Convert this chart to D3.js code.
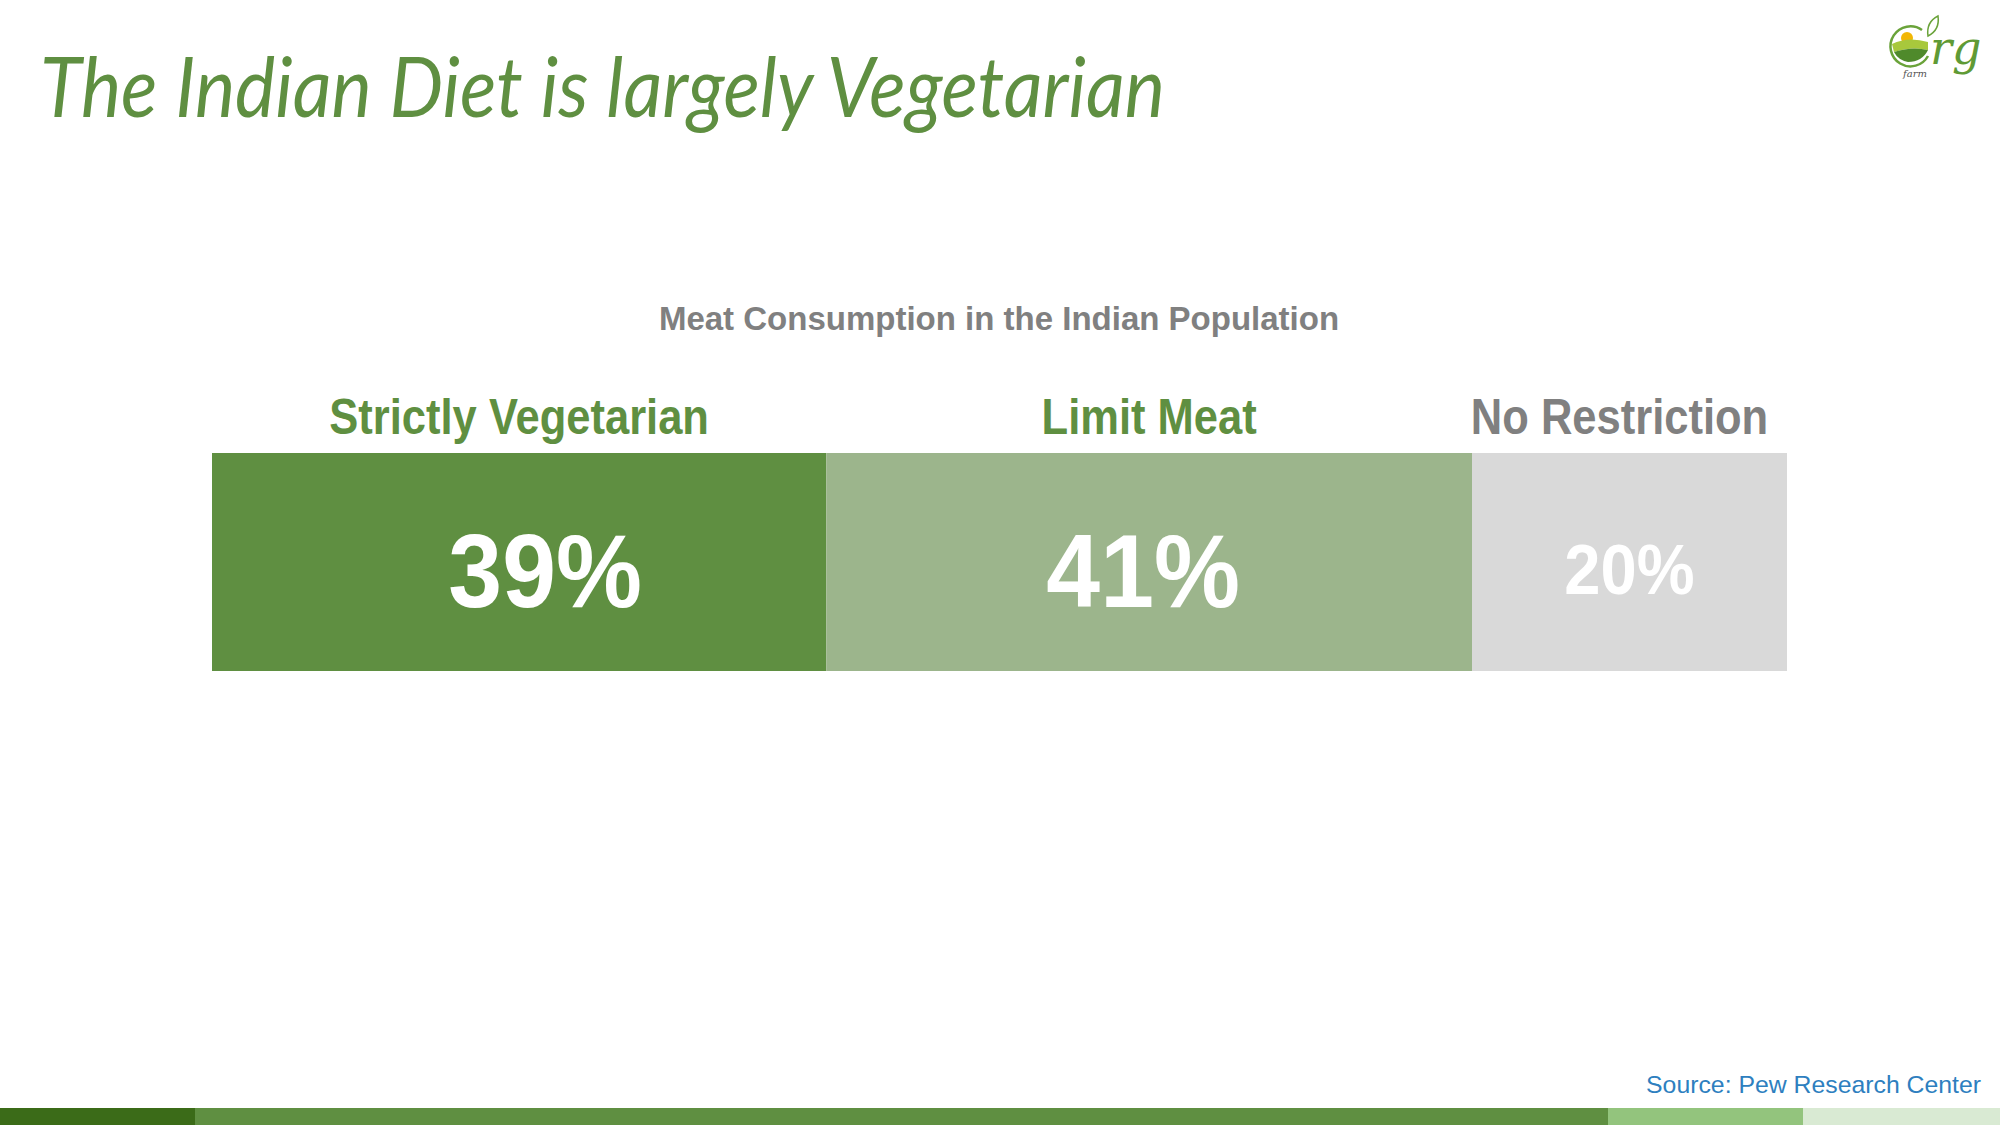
<!DOCTYPE html>
<html>
<head>
<meta charset="utf-8">
<script src="https://cdn.jsdelivr.net/npm/d3@7"></script>
<style>
  html, body { margin: 0; padding: 0; background: #fff; }
  svg { display: block; }
</style>
</head>
<body>
<svg id="chart"></svg>
<script>
// chart data
var categories = ["Strictly Vegetarian", "Limit Meat", "No Restriction"];
var shares = [39, 41, 20];
var segColors = ["#5f8f41", "#9cb58c", "#d9d9d9"];
var labelColors = ["#5f8f41", "#5f8f41", "#808080"];

// footer stripe, in percent of the page width
var stripeStops = [0, 9.75, 80.4, 90.15, 100];
var stripeColors = ["#3b6b18", "#5f8f41", "#93c47d", "#d9ead3"];

var W = 2000, H = 1125;

var svg = d3.select("#chart")
  .attr("width", W)
  .attr("height", H);

svg.append("rect").attr("width", W).attr("height", H).attr("fill", "#fff");

// title
svg.append("text")
  .attr("x", 40)
  .attr("y", 117)
  .attr("textLength", 1125)
  .attr("lengthAdjust", "spacingAndGlyphs")
  .style("font-family", "Lato, 'Noto Sans', sans-serif")
  .style("font-style", "italic")
  .style("font-size", "84px")
  .style("fill", "#5f8f41")
  .text("The Indian Diet is largely Vegetarian");

// subtitle
svg.append("text")
  .attr("x", 999)
  .attr("y", 330)
  .attr("text-anchor", "middle")
  .style("font-family", "'Liberation Sans', Arial, sans-serif")
  .style("font-weight", "bold")
  .style("font-size", "33px")
  .style("fill", "#808080")
  .text("Meat Consumption in the Indian Population");

// stacked bar
var margin = { left: 212, right: 213 };
var barTop = 453, barH = 218;

var x = d3.scaleLinear()
  .domain([0, d3.sum(shares)])
  .range([margin.left, W - margin.right]);

var segs = [];
var acc = 0;
shares.forEach(function(v, i) {
  segs.push({ name: categories[i], value: v, x0: acc, x1: acc + v, color: segColors[i], lc: labelColors[i] });
  acc += v;
});

var bar = svg.append("g");

bar.selectAll("rect")
  .data(segs)
  .enter().append("rect")
  .attr("x", d => x(d.x0))
  .attr("y", barTop)
  .attr("width", d => x(d.x1) - x(d.x0))
  .attr("height", barH)
  .attr("fill", d => d.color);

// category labels above the bar
var sx = 0.87, sxVal = 0.93;
bar.selectAll("text.cat")
  .data(segs)
  .enter().append("text")
  .attr("class", "cat")
  .attr("text-anchor", "middle")
  .attr("transform", function(d) {
    var cx = (x(d.x0) + x(d.x1)) / 2;
    if (d.x1 === d3.sum(shares)) cx -= 10;
    return "translate(" + cx + ",434) scale(" + sx + ",1)";
  })
  .style("font-family", "'Liberation Sans', Arial, sans-serif")
  .style("font-weight", "bold")
  .style("font-size", "50px")
  .style("fill", d => d.lc)
  .text(d => d.name);

// value labels inside the bar
bar.selectAll("text.val")
  .data(segs)
  .enter().append("text")
  .attr("class", "val")
  .attr("text-anchor", "middle")
  .attr("transform", function(d) {
    var w = x(d.x1) - x(d.x0);
    var cx = (x(d.x0) + x(d.x1)) / 2;
    if (d.x0 === 0) cx += 26;
    if (w > 500 && d.x0 > 0) cx -= 6;
    var y = w < 400 ? 594 : 607;
    return "translate(" + cx + "," + y + ") scale(" + sxVal + ",1)";
  })
  .style("font-family", "'Liberation Sans', Arial, sans-serif")
  .style("font-weight", "bold")
  .style("font-size", d => (x(d.x1) - x(d.x0)) < 400 ? "70px" : "104px")
  .style("fill", "#fff")
  .text(d => d.value + "%");

// source
svg.append("text")
  .attr("x", 1981)
  .attr("y", 1093)
  .attr("text-anchor", "end")
  .style("font-family", "'Liberation Sans', Arial, sans-serif")
  .style("font-size", "24.8px")
  .style("fill", "#2e7fbf")
  .text("Source: Pew Research Center");

// footer stripe
var sxStripe = d3.scaleLinear().domain([0, 100]).range([0, W]);
svg.append("g").selectAll("rect")
  .data(stripeColors)
  .enter().append("rect")
  .attr("x", (d, i) => sxStripe(stripeStops[i]))
  .attr("y", 1108)
  .attr("width", (d, i) => sxStripe(stripeStops[i + 1]) - sxStripe(stripeStops[i]))
  .attr("height", H - 1108)
  .attr("fill", d => d);

// logo, top right
var logo = svg.append("g").attr("transform", "translate(1910,46)");
logo.append("path")
  .attr("d", "M 12 -16 A 20 20 0 1 0 18 10")
  .attr("fill", "none")
  .attr("stroke", "#6aa33a")
  .attr("stroke-width", 2.5);
logo.append("circle").attr("cx", -3).attr("cy", -8).attr("r", 6).attr("fill", "#f2b705");
logo.append("path")
  .attr("d", "M -18 -2 Q -2 -10 18 -4 L 18 4 Q 2 0 -16 6 Z")
  .attr("fill", "#a8c83c");
logo.append("path")
  .attr("d", "M -16 6 Q 2 0 18 4 Q 12 16 -2 16 Q -12 14 -16 6 Z")
  .attr("fill", "#4f8a2b");
logo.append("path")
  .attr("d", "M 18 -10 Q 16 -24 28 -30 Q 30 -16 18 -10 Z")
  .attr("fill", "none")
  .attr("stroke", "#6aa33a")
  .attr("stroke-width", 1.5);
logo.append("text")
  .attr("x", 20)
  .attr("y", 18)
  .style("font-family", "'DejaVu Serif', serif")
  .style("font-style", "italic")
  .style("font-size", "46px")
  .style("fill", "#5f9a35")
  .text("rg");
logo.append("text")
  .attr("x", 17)
  .attr("y", 31)
  .attr("text-anchor", "end")
  .style("font-family", "'DejaVu Serif', serif")
  .style("font-style", "italic")
  .style("font-size", "10px")
  .style("fill", "#555")
  .text("farm");
</script>
</body>
</html>
